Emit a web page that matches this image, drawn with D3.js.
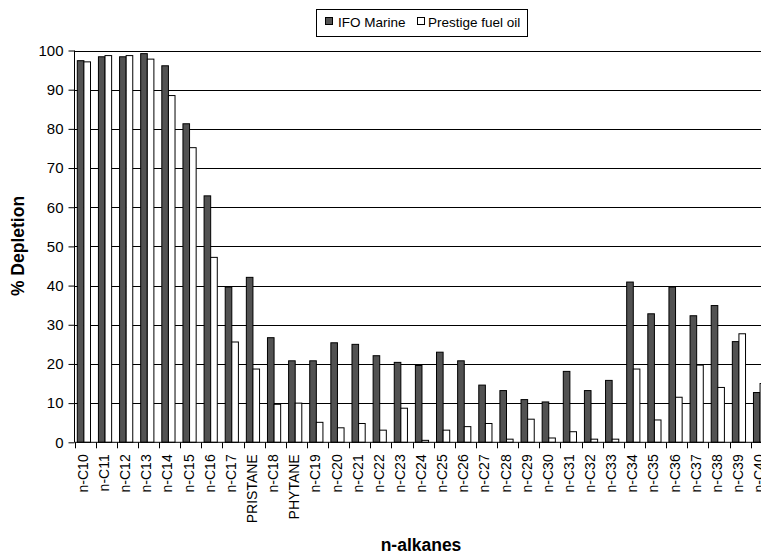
<!DOCTYPE html>
<html>
<head>
<meta charset="utf-8">
<script src="https://cdn.jsdelivr.net/npm/d3@7"></script>
<style>
  body { margin: 0; background: #fff; }
  svg { display: block; overflow: hidden; font-family: "Liberation Sans", Arial, sans-serif; }
</style>
</head>
<body>
<svg id="chart" width="761" height="554"></svg>
<script>
const categories = ["n-C10","n-C11","n-C12","n-C13","n-C14","n-C15","n-C16","n-C17","PRISTANE","n-C18","PHYTANE",
  "n-C19","n-C20","n-C21","n-C22","n-C23","n-C24","n-C25","n-C26","n-C27","n-C28","n-C29","n-C30",
  "n-C31","n-C32","n-C33","n-C34","n-C35","n-C36","n-C37","n-C38","n-C39","n-C40"];
const seriesNames = ["IFO Marine", "Prestige fuel oil"];
const ifoMarine = [97.4,98.4,98.4,99.2,96.1,81.3,62.9,39.6,42.1,26.7,20.8,
  20.8,25.4,25.0,22.1,20.4,19.6,23.0,20.8,14.6,13.2,10.9,10.3,
  18.1,13.2,15.8,40.9,32.8,39.6,32.3,34.9,25.7,12.7];
const prestige = [97.1,98.7,98.7,97.8,88.5,75.2,47.2,25.6,18.7,9.7,10.0,
  5.1,3.7,4.8,3.1,8.7,0.5,3.1,4.0,4.8,0.8,5.9,1.1,
  2.7,0.8,0.8,18.7,5.7,11.5,19.7,14.0,27.7,15.0];
const yTicks = [0,10,20,30,40,50,60,70,80,90,100];
const seriesColors = ["#525252", "#ffffff"];

const svg = d3.select("#chart");
const plotLeft = 74.5, plotTop = 50.5, plotBottom = 442.3;
const step = 21.13;

const x = d3.scaleBand().domain(categories).range([plotLeft, plotLeft + categories.length * step]).padding(0);
const xs = d3.scaleBand().domain(seriesNames).range([2.8, 16.0]).padding(0);
const y = d3.scaleLinear().domain([0, 100]).range([plotBottom, plotTop]);

const data = categories.map((c, i) => ({ cat: c, vals: [ifoMarine[i], prestige[i]] }));

// gridlines
svg.append("g").selectAll("line").data(yTicks.filter(d => d > 0)).join("line")
  .attr("x1", plotLeft).attr("x2", 800)
  .attr("y1", d => Math.round(y(d)) + 0.5).attr("y2", d => Math.round(y(d)) + 0.5)
  .attr("stroke", "#000").attr("stroke-width", 1);

// bars
const groups = svg.append("g").selectAll("g").data(data).join("g")
  .attr("transform", d => `translate(${x(d.cat)},0)`);
groups.selectAll("rect").data(d => d.vals.map((v, k) => ({ s: seriesNames[k], v, k }))).join("rect")
  .attr("x", d => xs(d.s))
  .attr("width", xs.bandwidth())
  .attr("y", d => y(d.v))
  .attr("height", d => plotBottom - y(d.v))
  .attr("fill", d => seriesColors[d.k])
  .attr("stroke", "#000").attr("stroke-width", 1);

// y axis
const yAxis = svg.append("g").attr("transform", `translate(${plotLeft},0)`)
  .call(d3.axisLeft(y).tickValues(yTicks).tickSize(6).tickPadding(5));
yAxis.select(".domain").attr("d", `M0,${plotTop}V${plotBottom}`).attr("stroke", "#000");
yAxis.selectAll("text").attr("font-size", 15).attr("fill", "#000").attr("font-family", "Liberation Sans, Arial, sans-serif");
yAxis.selectAll(".tick line").attr("stroke", "#000");

// x axis line
svg.append("line").attr("x1", plotLeft).attr("x2", 800).attr("y1", plotBottom).attr("y2", plotBottom)
  .attr("stroke", "#000").attr("stroke-width", 1);
// x ticks at band boundaries
svg.append("g").selectAll("line").data(categories.concat(["__end"])).join("line")
  .attr("x1", (d, i) => Math.round(plotLeft + i * x.step()) + 0.5)
  .attr("x2", (d, i) => Math.round(plotLeft + i * x.step()) + 0.5)
  .attr("y1", plotBottom).attr("y2", plotBottom + 6)
  .attr("stroke", "#000");
// x labels via axis with no ticks
const xAxis = svg.append("g").attr("transform", `translate(0,${plotBottom})`)
  .call(d3.axisBottom(x).tickSize(0).tickPadding(0));
xAxis.select(".domain").remove();
xAxis.selectAll("text")
  .attr("font-size", 14).attr("fill", "#000").attr("font-family", "Liberation Sans, Arial, sans-serif")
  .attr("text-anchor", "end")
  .attr("transform", "translate(-2,12) rotate(-90)")
  .attr("x", 0).attr("y", 0).attr("dy", "0.35em");

// axis titles
svg.append("text").attr("x", 421).attr("y", 551).attr("text-anchor", "middle")
  .attr("font-size", 17.5).attr("font-weight", "bold").text("n-alkanes");
svg.append("text").attr("transform", "translate(24,246) rotate(-90)").attr("text-anchor", "middle")
  .attr("font-size", 17.5).attr("font-weight", "bold").text("% Depletion");

// legend
const lg = svg.append("g");
lg.append("rect").attr("x", 316.5).attr("y", 9.5).attr("width", 211).attr("height", 27)
  .attr("fill", "#fff").attr("stroke", "#000");
const legendItems = [{ name: seriesNames[0], color: seriesColors[0], sx: 325, tx: 338 },
                     { name: seriesNames[1], color: seriesColors[1], sx: 417, tx: 428 }];
legendItems.forEach(it => {
  lg.append("rect").attr("x", it.sx + 0.5).attr("y", 17.5).attr("width", 7).attr("height", 7)
    .attr("fill", it.color).attr("stroke", "#000");
  lg.append("text").attr("x", it.tx).attr("y", 27).attr("font-size", 13.5).text(it.name);
});
</script>
</body>
</html>
